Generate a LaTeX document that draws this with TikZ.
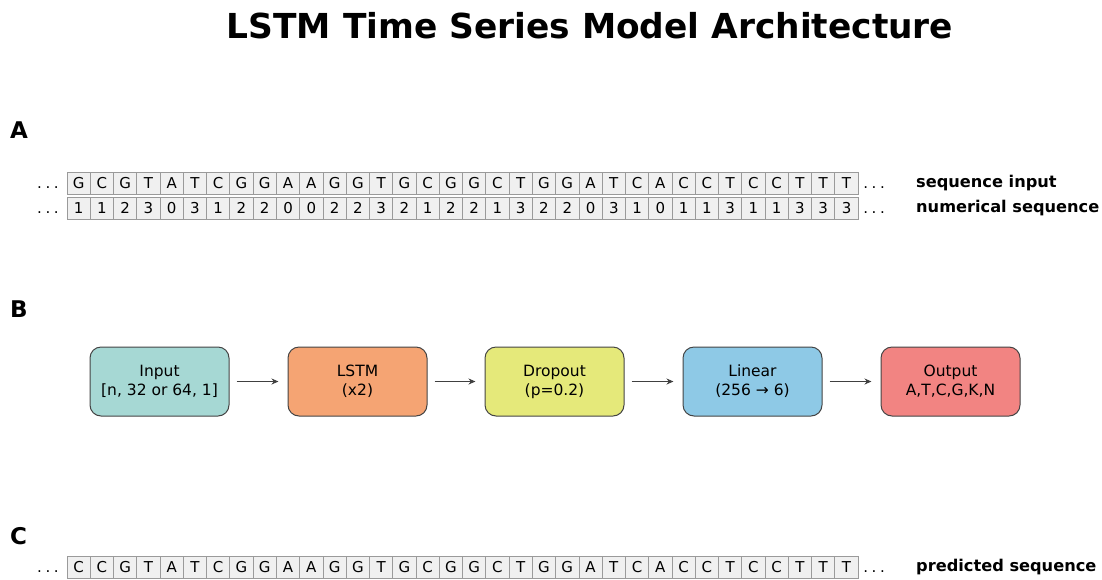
\documentclass[tikz,border=0pt]{standalone}
\usepackage{fontspec}
\setmainfont{DejaVu Sans}
\usetikzlibrary{arrows.meta}
\definecolor{cellfill}{HTML}{F0F0F0}
\definecolor{cellline}{HTML}{9A9A9A}
\definecolor{boxline}{HTML}{444444}
\definecolor{arrowc}{HTML}{404040}
\definecolor{cInput}{HTML}{A6D8D4}
\definecolor{cLSTM}{HTML}{F5A473}
\definecolor{cDrop}{HTML}{E5E97A}
\definecolor{cLin}{HTML}{8EC9E6}
\definecolor{cOut}{HTML}{F28482}
\newcommand{\mydots}{.\hspace{3.6pt}.\hspace{3.6pt}.}
\tikzset{
  cell/.style={draw=cellline, fill=cellfill, line width=0.8pt, minimum width=23.27pt, minimum height=22pt, inner sep=0pt, font=\fontsize{15}{15}\selectfont},
  dots/.style={font=\fontsize{15}{15}\selectfont, inner sep=0pt, anchor=base},
  rowlabel/.style={font=\bfseries\fontsize{16.2}{16}\selectfont, anchor=west, inner sep=0pt},
  panel/.style={font=\bfseries\fontsize{23}{23}\selectfont, anchor=west, inner sep=0pt},
  layer/.style={draw=boxline, line width=1pt, rounded corners=11pt, minimum width=139pt, minimum height=69pt, align=center, font=\fontsize{15.5}{19}\selectfont, inner sep=0pt},
  flow/.style={draw=arrowc, line width=1.6pt, -{Stealth[length=7pt,width=6pt]}, shorten <=7pt, shorten >=9pt}
}
\begin{document}
\begin{tikzpicture}[x=1pt,y=-1pt]
\useasboundingbox (0,0) rectangle (1102,579);
\node[font=\bfseries\fontsize{34.4}{34}\selectfont, inner sep=0pt] (title) at (590,26) {LSTM Time Series Model Architecture};
\node[panel] (pA) at (10,130) {A};
\node[panel] (pB) at (10,309) {B};
\node[panel] (pC) at (10,536) {C};
% Row A1
\foreach \c [count=\i from 0] in {G,C,G,T,A,T,C,G,G,A,A,G,G,T,G,C,G,G,C,T,G,G,A,T,C,A,C,C,T,C,C,T,T,T}
  \node[cell] (a\i) at ({78.6+\i*23.27},183) {\c};
\foreach \c [count=\i from 0] in {1,1,2,3,0,3,1,2,2,0,0,2,2,3,2,1,2,2,1,3,2,2,0,3,1,0,1,1,3,1,1,3,3,3}
  \node[cell] (n\i) at ({78.6+\i*23.27},208) {\c};
\foreach \c [count=\i from 0] in {C,C,G,T,A,T,C,G,G,A,A,G,G,T,G,C,G,G,C,T,G,G,A,T,C,A,C,C,T,C,C,T,T,T}
  \node[cell] (c\i) at ({78.6+\i*23.27},567) {\c};
\node[dots] (la) at (48,188.5) {\mydots};
\node[dots] (ln) at (48,213.5) {\mydots};
\node[dots] (lc) at (48,572.5) {\mydots};
\node[dots] (ra) at (874,188.5) {\mydots};
\node[dots] (rn) at (874,213.5) {\mydots};
\node[dots] (rc) at (874,572.5) {\mydots};
\node[rowlabel] (tA) at (916,183) {sequence input};
\node[rowlabel] (tN) at (916,208) {numerical sequence};
\node[rowlabel] (tC) at (916,567) {predicted sequence};
% Panel B
\node[layer, fill=cInput] (inp) at (159.5,381.5) {Input\\{[n, 32 or 64, 1]}};
\node[layer, fill=cLSTM] (lstm) at (357.5,381.5) {LSTM\\(x2)};
\node[layer, fill=cDrop] (drop) at (554.5,381.5) {Dropout\\(p=0.2)};
\node[layer, fill=cLin] (lin) at (752.5,381.5) {Linear\\(256 → 6)};
\node[layer, fill=cOut] (out) at (950.5,381.5) {Output\\A,T,C,G,K,N};
\draw[flow] (inp) -- (lstm);
\draw[flow] (lstm) -- (drop);
\draw[flow] (drop) -- (lin);
\draw[flow] (lin) -- (out);
\end{tikzpicture}
\end{document}
